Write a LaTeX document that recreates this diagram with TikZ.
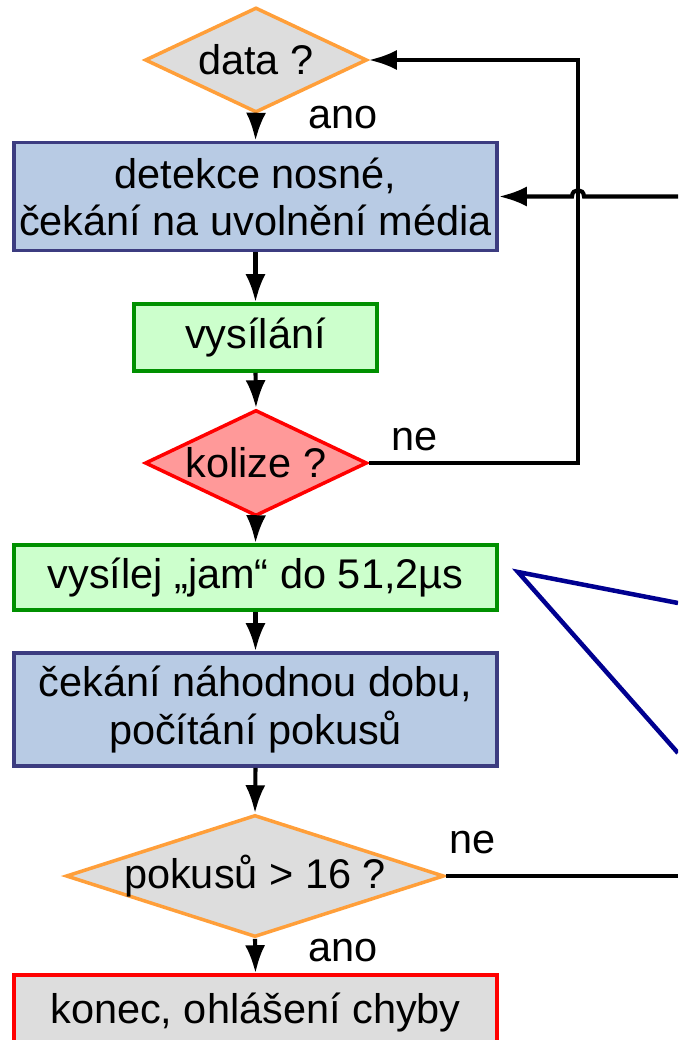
\documentclass[tikz,border=0pt]{standalone}
\usepackage{fontspec}
\setmainfont{Liberation Sans}
\usetikzlibrary{shapes.geometric,arrows.meta}
\definecolor{askgray}{HTML}{DDDDDD}
\definecolor{askorange}{HTML}{FF9F3A}
\definecolor{waitblue}{HTML}{B8CBE4}
\definecolor{waitedge}{HTML}{3C3C80}
\definecolor{sendgreen}{HTML}{CCFFCC}
\definecolor{sendedge}{HTML}{009000}
\definecolor{hitred}{HTML}{FF9999}
\definecolor{calloutblue}{HTML}{000090}
\begin{document}
\begin{tikzpicture}
  [x=0.025cm,y=-0.025cm,line width=2.9pt,
   every node/.style={font=\fontsize{29.5}{33.5}\selectfont,align=center,inner sep=0pt,line width=2.5pt},
   box/.style={rectangle,draw,minimum width=12.075cm},
   ask/.style={diamond,draw,fill=askgray,draw=askorange},
   arr/.style={-{Latex[length=0.7cm,width=0.5cm]}}]
  \useasboundingbox (0,0) rectangle (678,1040);
  \clip (0,0) rectangle (678,1040);
  \node (data)[ask,aspect=2.1,minimum width=5.55cm,minimum height=2.625cm] at (256,60) {data ?};
  \node (carrier)[box,fill=waitblue,draw=waitedge,minimum height=2.7cm] at (255.5,196.5) {detekce nosné,\\čekání na uvolnění média};
  \node (send)[box,fill=sendgreen,draw=sendedge,minimum width=6.075cm,minimum height=1.675cm] at (255.5,337.5) {vysílání};
  \node (collision)[ask,fill=hitred,draw=red,aspect=2.1,minimum width=5.55cm,minimum height=2.65cm] at (256,463) {kolize ?};
  \node (jam)[box,fill=sendgreen,draw=sendedge,minimum height=1.625cm] at (255.5,577.5) {vysílej „jam“ do 51,2µs};
  \node (backoff)[box,fill=waitblue,draw=waitedge,minimum height=2.825cm] at (255.5,709.5) {čekání náhodnou dobu,\\počítání pokusů};
  \node (tries)[ask,aspect=3.1,inner ysep=-4pt,minimum width=9.45cm,minimum height=3.05cm] at (255,876) {pokusů > 16 ?};
  \node (fail)[box,fill=askgray,draw=red,minimum height=1.9cm] at (255.5,1013) {konec, ohlášení chyby};
  \node (yes1)[anchor=base west] at (307,128) {ano};
  \node (no1)[anchor=base west] at (390,450) {ne};
  \node (no2)[anchor=base west] at (448,853) {ne};
  \node (yes2)[anchor=base west] at (307,961) {ano};
  \coordinate (turn) at (578,463);
  \coordinate (retry) at (678,196.5);
  \coordinate (giveup) at (678,876);
  \coordinate (tip) at (518,572);
  \coordinate (upper) at (678,603);
  \coordinate (lower) at (678,753);
  \foreach \from/\to in {data/carrier,carrier/send,send/collision,collision/jam,jam/backoff,backoff/tries,tries/fail}
    \draw[arr] (\from.south) -- (\to.north);
  \draw[arr] (collision.east) -- (turn) |- (data.east);
  \draw[arr] (retry) -- (584,196.5) .. controls (584,188) and (572,188) .. (572,196.5) -- (carrier.east);
  \draw (tries.east) -- (giveup);
  \draw[calloutblue,line width=3.2pt] (upper) -- (tip) -- (lower);
\end{tikzpicture}
\end{document}
